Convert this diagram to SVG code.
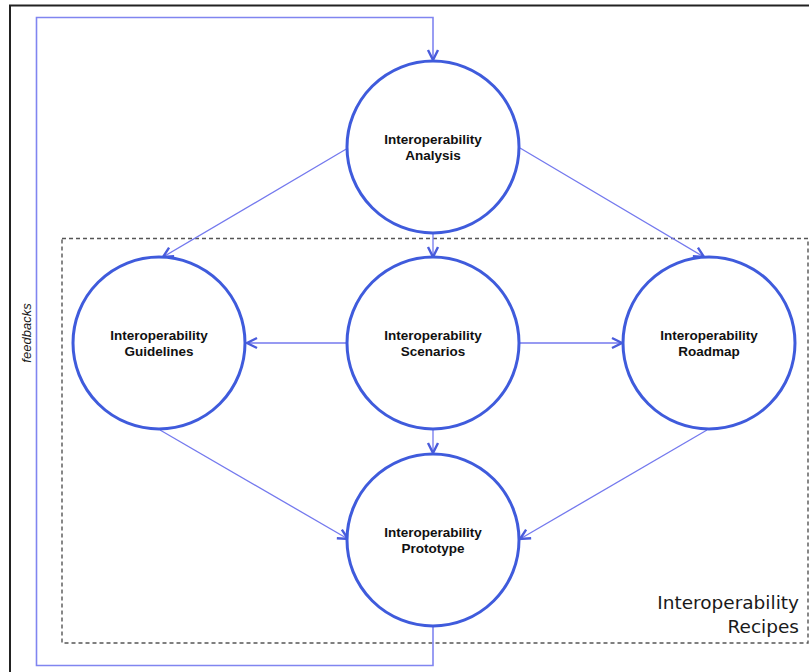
<svg xmlns="http://www.w3.org/2000/svg" width="809" height="672" viewBox="0 0 809 672">
<style>
.node{fill:#fff;stroke:#3f5bdc;stroke-width:3}
.lbl{font-family:"Liberation Sans",Arial,sans-serif;font-weight:bold;font-size:13.5px;fill:#111;text-anchor:middle}
.conn{fill:none;stroke:#7479ee;stroke-width:1.3}
.fb{fill:none;stroke:#8085f0;stroke-width:1.6}
</style>
<defs>
<marker id="arr" viewBox="0 0 12 12" refX="11" refY="6" markerWidth="12" markerHeight="12" markerUnits="userSpaceOnUse" orient="auto" overflow="visible">
<path d="M1,1 L11,6 L1,11" fill="none" stroke="#4a5cdc" stroke-width="2.4" stroke-linejoin="miter"/>
</marker>
</defs>
<rect width="809" height="672" fill="#fff"/>
<path d="M10,672 L10,5.5 L809,5.5" fill="none" stroke="#222" stroke-width="2"/>
<g id="recipes">
<rect x="62" y="238.5" width="746" height="404.5" fill="none" stroke="#555" stroke-width="1.4" stroke-dasharray="4,3"/>
<text x="799" y="609" font-family="'DejaVu Sans',Verdana,sans-serif" font-size="18.5" fill="#1a1a1a" text-anchor="end">Interoperability</text>
<text x="799" y="633" font-family="'DejaVu Sans',Verdana,sans-serif" font-size="18.5" fill="#1a1a1a" text-anchor="end">Recipes</text>
</g>
<g id="connectors">
<path class="fb" d="M433,627 L433,665.5 L36.5,665.5 L36.5,17.5 L433,17.5 L433,60" marker-end="url(#arr)"/>
<text transform="translate(31,333) rotate(-90)" font-family="'Liberation Sans',Arial,sans-serif" font-style="italic" font-size="13" fill="#1a1a1a" text-anchor="middle">feedbacks</text>
<line class="conn" x1="433" y1="233" x2="433" y2="257" marker-end="url(#arr)"/>
<line class="conn" x1="348" y1="148" x2="163" y2="257" marker-end="url(#arr)"/>
<line class="conn" x1="520" y1="148" x2="704" y2="257" marker-end="url(#arr)"/>
<line class="conn" x1="347" y1="343" x2="247" y2="343" marker-end="url(#arr)"/>
<line class="conn" x1="520" y1="343" x2="622" y2="343" marker-end="url(#arr)"/>
<line class="conn" x1="433" y1="430" x2="433" y2="453" marker-end="url(#arr)"/>
<line class="conn" x1="160" y1="430" x2="348" y2="539" marker-end="url(#arr)"/>
<line class="conn" x1="707" y1="430" x2="520" y2="539" marker-end="url(#arr)"/>
</g>
<g id="analysis">
<circle class="node" cx="433" cy="147" r="86"/>
<text class="lbl" x="433" y="144">Interoperability</text>
<text class="lbl" x="433" y="160">Analysis</text>
</g>
<g id="guidelines">
<circle class="node" cx="159" cy="343" r="86"/>
<text class="lbl" x="159" y="340">Interoperability</text>
<text class="lbl" x="159" y="356">Guidelines</text>
</g>
<g id="scenarios">
<circle class="node" cx="433" cy="343" r="86"/>
<text class="lbl" x="433" y="340">Interoperability</text>
<text class="lbl" x="433" y="356">Scenarios</text>
</g>
<g id="roadmap">
<circle class="node" cx="709" cy="343" r="86"/>
<text class="lbl" x="709" y="340">Interoperability</text>
<text class="lbl" x="709" y="356">Roadmap</text>
</g>
<g id="prototype">
<circle class="node" cx="433" cy="540" r="86"/>
<text class="lbl" x="433" y="537">Interoperability</text>
<text class="lbl" x="433" y="553">Prototype</text>
</g>
</svg>
